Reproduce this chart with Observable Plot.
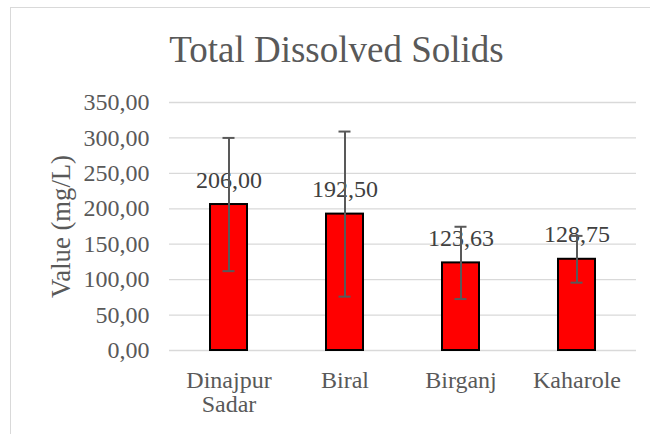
<!DOCTYPE html>
<html>
<head>
<meta charset="utf-8">
<script src="https://cdn.jsdelivr.net/npm/d3@7"></script>
<script src="https://cdn.jsdelivr.net/npm/@observablehq/plot@0.6"></script>
<style>
  html, body { margin: 0; padding: 0; background: #fff; overflow: hidden; }
  #wrap { position: relative; width: 650px; height: 434px; overflow: hidden; }
  #frame { position: absolute; left: 10px; top: 6.5px; width: 700px; height: 500px;
           border-left: 1.5px solid #d9d9d9; border-top: 1.5px solid #d9d9d9; }
  #title { position: absolute; left: 0; top: 30.7px; width: 673px; text-align: center;
           font-family: "Liberation Serif", "Times New Roman", serif; font-size: 37px;
           line-height: 37px; color: #595959; white-space: nowrap; }
  #chart { position: absolute; left: 0; top: 0; }
</style>
</head>
<body>
<div id="wrap">
  <div id="frame"></div>
  <div id="title">Total Dissolved Solids</div>
  <div id="chart"></div>
</div>
<script>
const categories = ["Dinajpur\nSadar", "Biral", "Birganj", "Kaharole"];
const means = [206.00, 192.50, 123.63, 128.75];
const errors = [94, 116.5, 51, 33];
const yTicks = [0, 50, 100, 150, 200, 250, 300, 350];
const yTitle = ["Value (mg/L)"];

const fmt = d => d.toFixed(2).replace(".", ",");
const data = categories.map((c, i) => ({cat: c, v: means[i], lo: means[i] - errors[i], hi: means[i] + errors[i]}));

const chart = Plot.plot({
  width: 650,
  height: 434,
  marginTop: 102,
  marginBottom: 84,
  marginLeft: 169,
  marginRight: 14,
  style: {fontFamily: "'Liberation Serif', 'Times New Roman', serif", color: "#595959", background: "transparent"},
  x: {domain: categories, paddingInner: 0.683, paddingOuter: 0.3415, label: null},
  y: {domain: [0, 350], label: null},
  marks: [
    Plot.gridY(yTicks, {stroke: "#d9d9d9", strokeOpacity: 1, strokeWidth: 1.3}),
    Plot.axisY(yTicks, {tickSize: 0, tickPadding: 20, tickFormat: fmt, fontSize: 24, label: null}),
    Plot.axisX({tickSize: 0, tickPadding: 20, fontSize: 24, label: null, lineHeight: 1}),
    Plot.barY(data, {x: "cat", y: "v", fill: "#ff0000", stroke: "#000", strokeWidth: 2}),
    Plot.text(data, {x: "cat", y: "v", text: d => fmt(d.v), lineAnchor: "bottom", dy: -17, fontSize: 24, fill: "#404040"}),
    Plot.ruleX(data, {x: "cat", y1: "lo", y2: "hi", stroke: "#595959", strokeWidth: 2}),
    Plot.tickY(data, {x: "cat", y: "lo", stroke: "#595959", strokeWidth: 2, inset: 12.5}),
    Plot.tickY(data, {x: "cat", y: "hi", stroke: "#595959", strokeWidth: 2, inset: 12.5}),
    Plot.text(yTitle, {text: d => d, frameAnchor: "left", rotate: -90, lineAnchor: "top", textAnchor: "middle", dx: -118, fontSize: 26.7, fill: "#595959"})
  ]
});
document.getElementById("chart").appendChild(chart);
</script>
</body>
</html>
